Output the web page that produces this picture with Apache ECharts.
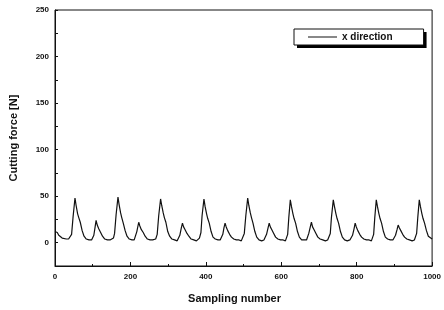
<!DOCTYPE html>
<html>
<head>
<meta charset="utf-8">
<script src="https://cdn.jsdelivr.net/npm/echarts@6/dist/echarts.min.js"></script>
<style>
  html, body { margin: 0; padding: 0; background: #fff; }
  #chart { width: 444px; height: 310px; }
</style>
</head>
<body>
<div id="chart"></div>
<script>
// x ticks
const xTicks = [0, 200, 400, 600, 800, 1000];
// y ticks (labels only on these)
const yTicks = [0, 50, 100, 150, 200, 250];

// sampled cutting force, x direction [sample, N]
const forceX = [
  [0, 12], [3, 13], [6, 11], [10, 8], [14, 6], [19, 5], [24, 4], [30, 4], [36, 4], [41, 5], [44, 9], [48, 28], [53, 48],
  [56, 40], [60, 31], [63, 27], [67, 22], [72, 13], [77, 7], [83, 4], [90, 3], [97, 3], [101, 4], [103, 8], [106, 16], [109, 24],
  [112, 19], [116, 15], [121, 11], [126, 7], [132, 4], [139, 3], [146, 3], [151, 2], [155, 5], [158, 10], [162, 30], [167, 49],
  [170, 41], [174, 32], [177, 27], [181, 21], [186, 13], [191, 7], [197, 4], [204, 3], [210, 3], [213, 5], [217, 12], [222, 22],
  [225, 18], [229, 14], [234, 11], [239, 7], [245, 4], [252, 3], [259, 3], [264, 2], [267, 4], [271, 9], [275, 29], [280, 47],
  [283, 40], [287, 32], [290, 27], [294, 22], [299, 12], [304, 7], [310, 4], [317, 3], [324, 2], [328, 4], [331, 8], [335, 16], [338, 21],
  [341, 17], [345, 14], [350, 10], [355, 7], [361, 4], [368, 3], [375, 2], [380, 3], [383, 5], [387, 11], [390, 29], [395, 47],
  [398, 39], [402, 31], [405, 26], [409, 21], [414, 12], [419, 6], [425, 4], [432, 3], [438, 3], [442, 4], [445, 9], [448, 16], [451, 21],
  [454, 17], [458, 13], [463, 9], [468, 6], [474, 4], [481, 3], [488, 3], [494, 2], [498, 4], [502, 10], [506, 29], [511, 48],
  [514, 40], [518, 32], [521, 27], [525, 21], [530, 12], [535, 6], [541, 3], [548, 2], [554, 3], [558, 4], [561, 9], [565, 16], [568, 21],
  [571, 17], [575, 14], [580, 10], [585, 6], [591, 4], [598, 3], [605, 3], [611, 2], [614, 4], [617, 9], [620, 27], [624, 46],
  [627, 39], [631, 31], [634, 26], [638, 21], [643, 12], [648, 6], [654, 3], [661, 3], [667, 3], [670, 5], [673, 10], [677, 17], [680, 22],
  [683, 17], [687, 14], [692, 10], [697, 6], [703, 4], [710, 3], [717, 2], [723, 3], [727, 5], [730, 10], [733, 27], [738, 46],
  [741, 39], [745, 31], [748, 26], [752, 21], [757, 12], [762, 6], [768, 3], [775, 2], [782, 3], [786, 4], [789, 8], [793, 15], [796, 21],
  [799, 17], [803, 13], [808, 9], [813, 6], [819, 4], [826, 3], [833, 3], [839, 2], [842, 4], [845, 9], [848, 27], [852, 46],
  [855, 39], [859, 31], [862, 26], [866, 21], [871, 12], [876, 6], [882, 4], [889, 3], [896, 3], [900, 4], [903, 8], [907, 14], [910, 19],
  [913, 16], [917, 13], [922, 9], [927, 6], [933, 4], [940, 3], [947, 2], [953, 3], [956, 5], [959, 10], [962, 27], [966, 46],
  [969, 39], [973, 31], [976, 26], [980, 21], [985, 13], [990, 7], [995, 5], [1000, 4]
];

const chart = echarts.init(document.getElementById('chart'));
const ink = '#111';
const font = 'Liberation Sans, Arial, sans-serif';

// legend box, drawn twice: a solid black copy offset as the drop shadow, then the real one on top
const legendBase = {
  padding: [3, 31, 3, 14],
  icon: 'rect', itemWidth: 29, itemHeight: 1,
  selectedMode: false,
  data: ['x direction']
};

chart.setOption({
  animation: false,
  backgroundColor: '#fff',
  grid: {
    left: 53, right: 5, top: 10, bottom: 44,
    show: true, borderColor: ink, borderWidth: 1
  },
  legend: [
    Object.assign({}, legendBase, {
      left: 297, top: 32, z: 3,
      backgroundColor: '#000', borderWidth: 0,
      itemStyle: { color: '#000' },
      lineStyle: { color: '#000' },
      textStyle: { fontFamily: font, fontSize: 10, fontWeight: 'bold', color: '#000' }
    }),
    Object.assign({}, legendBase, {
      left: 294, top: 29, z: 6,
      backgroundColor: '#fff',
      borderColor: ink, borderWidth: 1,
      textStyle: { fontFamily: font, fontSize: 10, fontWeight: 'bold', color: ink }
    })
  ],
  xAxis: {
    type: 'value',
    min: xTicks[0], max: xTicks[xTicks.length - 1], interval: 200,
    name: 'Sampling number', nameLocation: 'middle', nameGap: 27,
    nameTextStyle: { fontFamily: font, fontSize: 11, fontWeight: 'bold', color: ink, padding: [0, 18, 0, 0] },
    axisLine: { onZero: false, lineStyle: { color: ink, width: 1 } },
    axisTick: { inside: true, length: 4, lineStyle: { color: ink } },
    minorTick: { show: true, splitNumber: 2, length: 2, lineStyle: { color: ink } },
    splitLine: { show: false },
    axisLabel: { fontFamily: font, fontSize: 8, fontWeight: 'bold', color: ink, margin: 7,
      formatter: v => xTicks.includes(v) ? String(v) : '' }
  },
  yAxis: {
    type: 'value',
    min: -25, max: 250, interval: 25,
    name: 'Cutting force [N]', nameLocation: 'middle', nameGap: 36,
    nameTextStyle: { fontFamily: font, fontSize: 11, fontWeight: 'bold', color: ink },
    axisLine: { show: true, lineStyle: { color: ink, width: 1 } },
    axisTick: { inside: true, length: 3, lineStyle: { color: ink } },
    splitLine: { show: false },
    axisLabel: { fontFamily: font, fontSize: 8, fontWeight: 'bold', color: ink, margin: 6,
      formatter: v => yTicks.includes(v) ? String(v) : '' }
  },
  series: [{
    name: 'x direction',
    type: 'line',
    data: forceX,
    symbol: 'none',
    lineStyle: { color: ink, width: 1.2 },
    itemStyle: { color: ink }
  }]
});
</script>
</body>
</html>
